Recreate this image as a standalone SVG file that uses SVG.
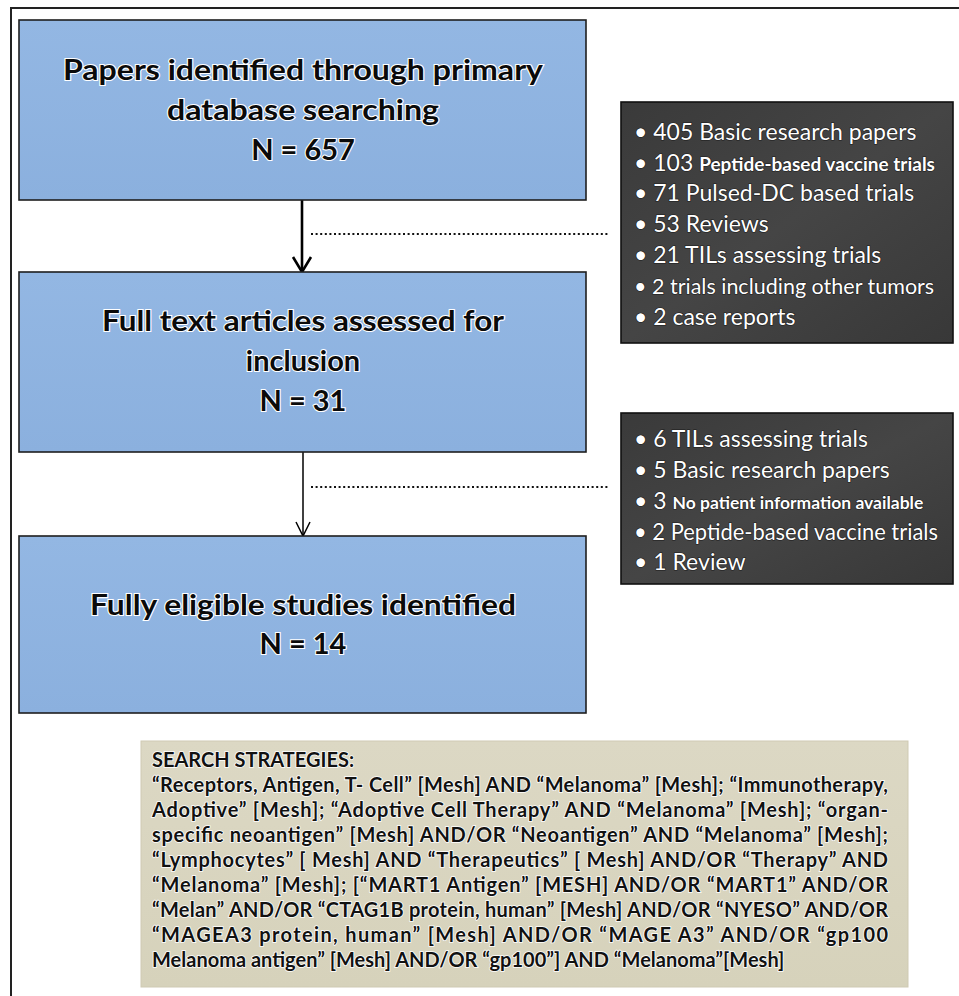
<svg xmlns="http://www.w3.org/2000/svg" width="959" height="996" viewBox="0 0 959 996">
<defs>
<linearGradient id="blueG" x1="0" y1="0" x2="0" y2="1">
<stop offset="0" stop-color="#93b7e3"/>
<stop offset="1" stop-color="#8bb0de"/>
</linearGradient>
<linearGradient id="darkG" x1="0" y1="0" x2="1" y2="1">
<stop offset="0" stop-color="#3a3a3a"/>
<stop offset="0.5" stop-color="#454545"/>
<stop offset="1" stop-color="#383838"/>
</linearGradient>
<linearGradient id="beigeG" x1="0" y1="0" x2="0" y2="1">
<stop offset="0" stop-color="#dcd8c4"/>
<stop offset="1" stop-color="#d6d2bb"/>
</linearGradient>
<style>
.blue{fill:url(#blueG);stroke:#1e1e1e;stroke-width:1.6}
.dark{fill:url(#darkG);stroke:#111;stroke-width:1.6}
.beige{fill:url(#beigeG);stroke:#cfcab3;stroke-width:1}
.ht{font-family:Lato,"Liberation Sans",sans-serif;font-weight:bold;font-size:29px;fill:#0a0a0a;stroke:#ffffff;stroke-width:2.2;paint-order:stroke;text-anchor:middle}
.wt{font-family:Lato,"Liberation Sans",sans-serif;font-size:23px;fill:#ffffff;stroke:#1a1a1a;stroke-width:1.2;paint-order:stroke}
.ws{font-size:19px;font-weight:bold}
.st{font-family:Lato,"Liberation Sans",sans-serif;font-weight:bold;font-size:20px;fill:#111;stroke:#ffffff;stroke-width:1.6;paint-order:stroke}
.conn{fill:none;stroke:#000}
.dots{fill:none;stroke:#111;stroke-width:2.2;stroke-dasharray:2 2.6}
</style>
</defs>
<rect x="0" y="0" width="959" height="996" fill="#ffffff"/>
<g id="frame">
<path d="M11 996 V8 H959" fill="none" stroke="#222" stroke-width="2"/>
</g>
<g id="connectors">
<path class="conn" d="M302 200 V271" stroke-width="2.6"/>
<path class="conn" d="M293 257 L302 272 L311 257" stroke-width="2.6"/>
<path class="dots" d="M311 234 H608"/>
<path class="conn" d="M303 452 V535" stroke-width="1.5"/>
<path class="conn" d="M296 522 L303 536 L310 522" stroke-width="1.5"/>
<path class="dots" d="M311 487 H608"/>
</g>
<g id="box1">
<rect class="blue" x="19" y="20" width="567" height="180"/>
<text class="ht" x="303" y="80" textLength="480" lengthAdjust="spacingAndGlyphs">Papers identified through primary</text>
<text class="ht" x="303" y="120" textLength="272" lengthAdjust="spacingAndGlyphs">database searching</text>
<text class="ht" x="303" y="160">N = 657</text>
</g>
<g id="box2">
<rect class="blue" x="19" y="272" width="567" height="180"/>
<text class="ht" x="303" y="331" textLength="402" lengthAdjust="spacingAndGlyphs">Full text articles assessed for</text>
<text class="ht" x="303" y="371">inclusion</text>
<text class="ht" x="303" y="411">N = 31</text>
</g>
<g id="box3">
<rect class="blue" x="19" y="536" width="567" height="177"/>
<text class="ht" x="303" y="615" textLength="426" lengthAdjust="spacingAndGlyphs">Fully eligible studies identified</text>
<text class="ht" x="303" y="654">N = 14</text>
</g>
<g id="excluded1">
<rect class="dark" x="621" y="102" width="332" height="241"/>
<text class="wt" x="634" y="140">• 405 Basic research papers</text>
<text class="wt" x="634" y="171">• 103 <tspan class="ws">Peptide-based vaccine trials</tspan></text>
<text class="wt" x="634" y="201">• 71 Pulsed-DC based trials</text>
<text class="wt" x="634" y="232">• 53 Reviews</text>
<text class="wt" x="634" y="263">• 21 TILs assessing trials</text>
<text class="wt" x="634" y="294" style="font-size:21.5px">• 2 trials including other tumors</text>
<text class="wt" x="634" y="325">• 2 case reports</text>
</g>
<g id="excluded2">
<rect class="dark" x="621" y="413" width="332" height="171"/>
<text class="wt" x="634" y="447">• 6 TILs assessing trials</text>
<text class="wt" x="634" y="478">• 5 Basic research papers</text>
<text class="wt" x="634" y="509">• 3 <tspan class="ws" style="font-size:17.5px">No patient information available</tspan></text>
<text class="wt" x="634" y="540" textLength="304" lengthAdjust="spacingAndGlyphs">• 2 Peptide-based vaccine trials</text>
<text class="wt" x="634" y="570">• 1 Review</text>
</g>
<g id="search">
<rect class="beige" x="141" y="741" width="767" height="246"/>
<text class="st" x="152" y="767">SEARCH  STRATEGIES:</text>
<text class="st" x="152" y="792" textLength="736" lengthAdjust="spacing">“Receptors, Antigen, T- Cell” [Mesh] AND “Melanoma” [Mesh]; “Immunotherapy,</text>
<text class="st" x="152" y="817" textLength="736" lengthAdjust="spacing">Adoptive” [Mesh]; “Adoptive Cell Therapy” AND “Melanoma” [Mesh]; “organ-</text>
<text class="st" x="152" y="842" textLength="736" lengthAdjust="spacing">specific neoantigen” [Mesh] AND/OR “Neoantigen” AND “Melanoma” [Mesh];</text>
<text class="st" x="152" y="867" textLength="736" lengthAdjust="spacing">“Lymphocytes” [ Mesh] AND “Therapeutics” [ Mesh] AND/OR “Therapy” AND</text>
<text class="st" x="152" y="892" textLength="736" lengthAdjust="spacing">“Melanoma” [Mesh]; [“MART1 Antigen” [MESH] AND/OR “MART1” AND/OR</text>
<text class="st" x="152" y="917" textLength="736" lengthAdjust="spacing">“Melan” AND/OR “CTAG1B protein, human” [Mesh] AND/OR “NYESO” AND/OR</text>
<text class="st" x="152" y="942" textLength="736" lengthAdjust="spacing">“MAGEA3 protein, human” [Mesh] AND/OR “MAGE A3” AND/OR “gp100</text>
<text class="st" x="152" y="967">Melanoma antigen” [Mesh] AND/OR “gp100”] AND “Melanoma”[Mesh]</text>
</g>
</svg>
